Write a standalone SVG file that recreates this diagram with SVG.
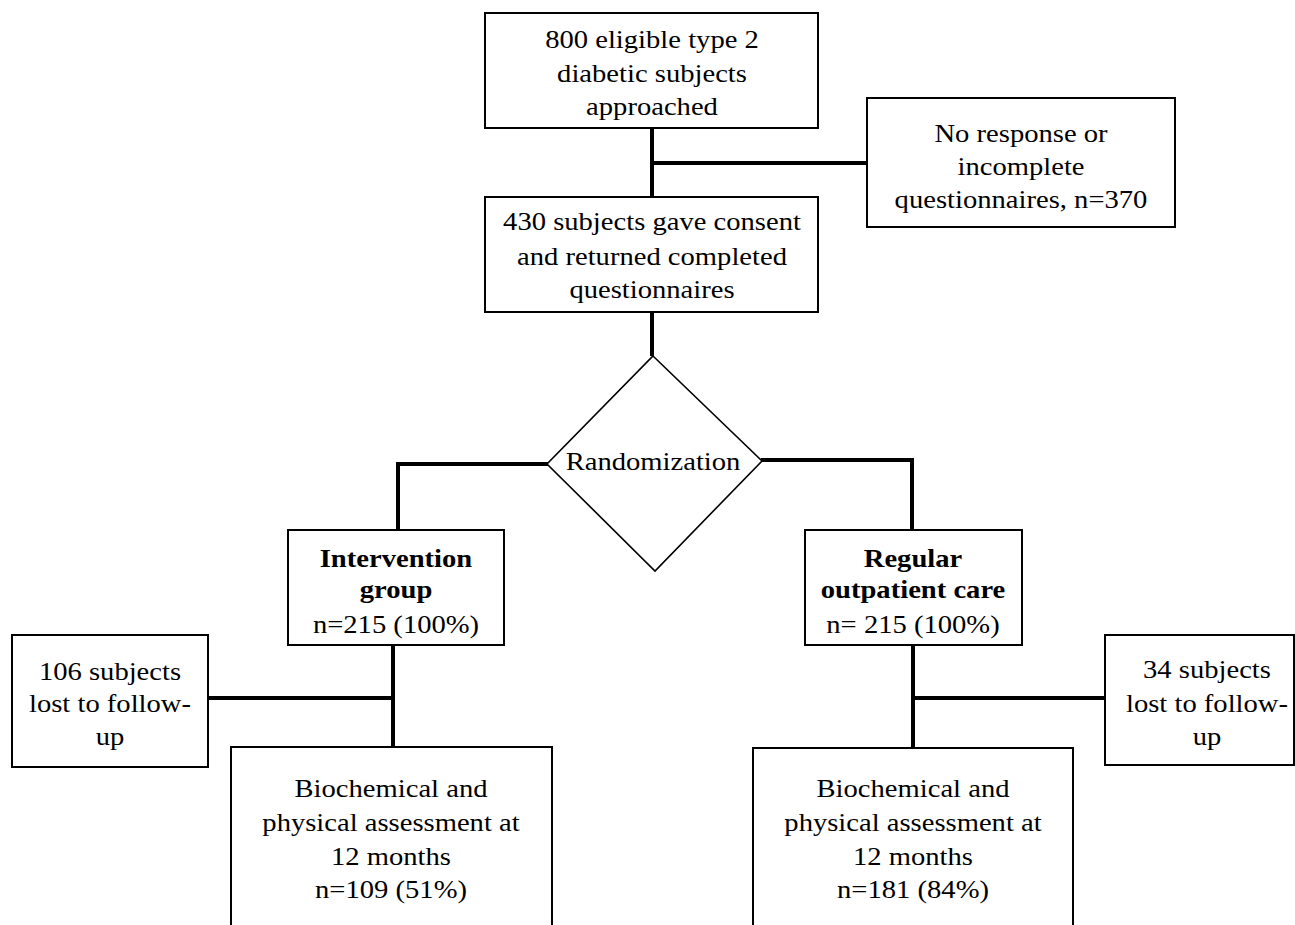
<svg xmlns="http://www.w3.org/2000/svg" width="1295" height="925" viewBox="0 0 1295 925">
<style>
.box{fill:#fff;stroke:#000;stroke-width:2}
.dia{fill:#fff;stroke:#000;stroke-width:1.6}
.con{fill:none;stroke:#000;stroke-width:4}
text{font-family:"Liberation Serif","Times New Roman",serif;font-size:26px;fill:#000;text-anchor:middle}
.b{font-weight:bold}
</style>
<rect width="1295" height="925" fill="#fff"/>
<g id="connectors">
<path class="con" d="M652 128 V197 M652 163 H867"/>
<path class="con" d="M652 312 V356"/>
<path class="con" d="M548 464 H398 V530"/>
<path class="con" d="M761 460 H912 V530"/>
<path class="con" d="M393 645 V747 M393 698 H208"/>
<path class="con" d="M913 645 V748 M913 698 H1105"/>
</g>
<g id="n1">
<rect class="box" x="485" y="13" width="333" height="115"/>
<text transform="translate(652,0) scale(1.1,1)" y="48">800 eligible type 2</text>
<text transform="translate(652,0) scale(1.1,1)" y="82">diabetic subjects</text>
<text transform="translate(652,0) scale(1.1,1)" y="115">approached</text>
</g>
<g id="n2">
<rect class="box" x="867" y="98" width="308" height="129"/>
<text transform="translate(1021,0) scale(1.1,1)" y="142">No response or</text>
<text transform="translate(1021,0) scale(1.1,1)" y="175">incomplete</text>
<text transform="translate(1021,0) scale(1.1,1)" y="208">questionnaires, n=370</text>
</g>
<g id="n3">
<rect class="box" x="485" y="197" width="333" height="115"/>
<text transform="translate(652,0) scale(1.1,1)" y="230">430 subjects gave consent</text>
<text transform="translate(652,0) scale(1.1,1)" y="265">and returned completed</text>
<text transform="translate(652,0) scale(1.1,1)" y="298">questionnaires</text>
</g>
<g id="n4">
<polygon class="dia" points="653,356 762,461 655,571 547,464"/>
<text transform="translate(653,0) scale(1.1,1)" y="470">Randomization</text>
</g>
<g id="n5">
<rect class="box" x="288" y="530" width="216" height="115"/>
<text class="b" transform="translate(396,0) scale(1.1,1)" y="567">Intervention</text>
<text class="b" transform="translate(396,0) scale(1.1,1)" y="598">group</text>
<text transform="translate(396,0) scale(1.1,1)" y="633">n=215 (100%)</text>
</g>
<g id="n6">
<rect class="box" x="805" y="530" width="217" height="115"/>
<text class="b" transform="translate(913,0) scale(1.1,1)" y="567">Regular</text>
<text class="b" transform="translate(913,0) scale(1.1,1)" y="598">outpatient care</text>
<text transform="translate(913,0) scale(1.1,1)" y="633">n= 215 (100%)</text>
</g>
<g id="n7">
<rect class="box" x="12" y="635" width="196" height="132"/>
<text transform="translate(110,0) scale(1.1,1)" y="680">106 subjects</text>
<text transform="translate(110,0) scale(1.1,1)" y="712">lost to follow-</text>
<text transform="translate(110,0) scale(1.1,1)" y="745">up</text>
</g>
<g id="n8">
<rect class="box" x="1105" y="635" width="189" height="130"/>
<text transform="translate(1207,0) scale(1.1,1)" y="678">34 subjects</text>
<text transform="translate(1207,0) scale(1.1,1)" y="712">lost to follow-</text>
<text transform="translate(1207,0) scale(1.1,1)" y="745">up</text>
</g>
<g id="n9">
<rect class="box" x="231" y="747" width="321" height="200"/>
<text transform="translate(391,0) scale(1.1,1)" y="797">Biochemical and</text>
<text transform="translate(391,0) scale(1.1,1)" y="831">physical assessment at</text>
<text transform="translate(391,0) scale(1.1,1)" y="865">12 months</text>
<text transform="translate(391,0) scale(1.1,1)" y="898">n=109 (51%)</text>
</g>
<g id="n10">
<rect class="box" x="753" y="748" width="320" height="200"/>
<text transform="translate(913,0) scale(1.1,1)" y="797">Biochemical and</text>
<text transform="translate(913,0) scale(1.1,1)" y="831">physical assessment at</text>
<text transform="translate(913,0) scale(1.1,1)" y="865">12 months</text>
<text transform="translate(913,0) scale(1.1,1)" y="898">n=181 (84%)</text>
</g>
</svg>
